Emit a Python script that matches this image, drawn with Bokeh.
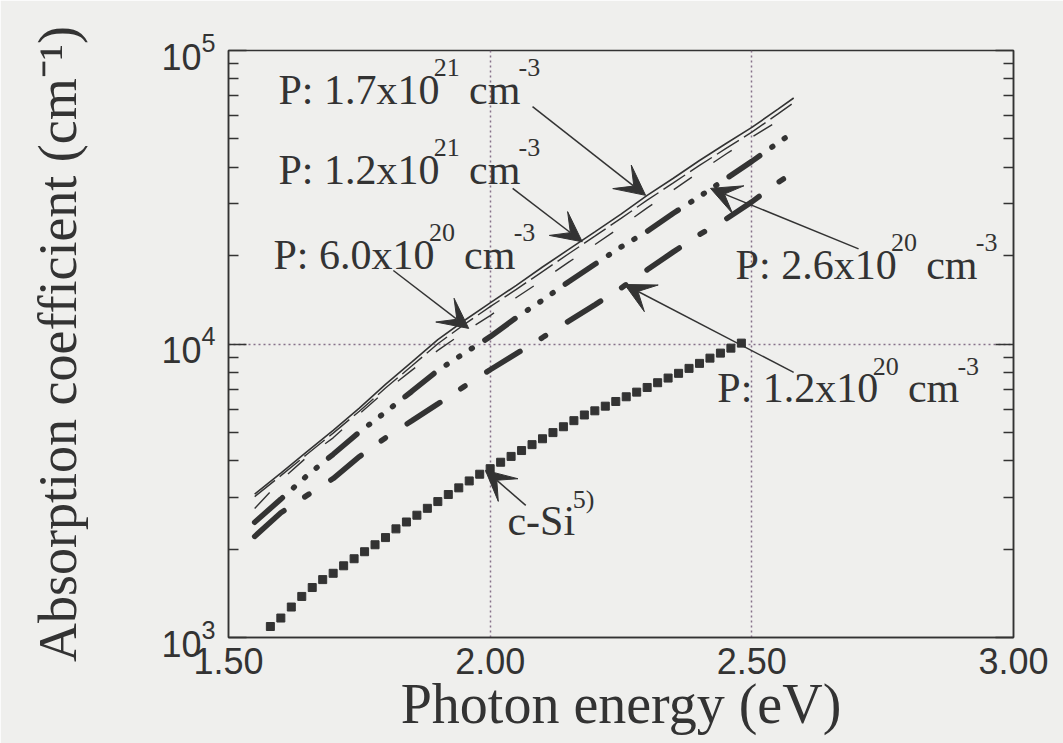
from bokeh.plotting import figure
from bokeh.models import (FixedTicker, LogAxis, Label, Arrow, VeeHead, Range1d)
from bokeh.embed import file_html
from bokeh.resources import INLINE

# Photon energy grid (eV) for the doped-film curves
energy = [1.55, 1.60, 1.65, 1.70, 1.75, 1.80, 1.85, 1.90, 1.95, 2.00, 2.05,
          2.10, 2.15, 2.20, 2.25, 2.30, 2.35, 2.40, 2.45, 2.50, 2.55, 2.58]

# Absorption coefficient (cm^-1) for each phosphorus concentration
alpha_p_1_7e21 = [3080, 3630, 4300, 5080, 6050, 7280, 8670, 10350, 12000, 13800, 15850,
                  18300, 21000, 24100, 27700, 32100, 36700, 42200, 48100, 54700, 63100, 68900]
alpha_p_1_2e21 = [3020, 3560, 4210, 4970, 5900, 7080, 8410, 10020, 11640, 13400, 15350,
                  17650, 20300, 23300, 26800, 30900, 35400, 40600, 46300, 52700, 60800, 66400]
alpha_p_6_0e20 = [2750, 3430, 4120, 4790, 5780, 6920, 8130, 9510, 10960, 12500, 14400,
                  16500, 19000, 21800, 25100, 29100, 33500, 38600, 44300, 50700, 57500, 62400]
alpha_p_2_6e20 = [2470, 2960, 3560, 4210, 5010, 5860, 6890, 8130, 9290, 10590, 12300,
                  14100, 16300, 18700, 21400, 24200, 27900, 31800, 36500, 41900, 48500, 52700]
alpha_p_1_2e20 = [2210, 2660, 3050, 3480, 4130, 4790, 5470, 6250, 7160, 8170, 9270,
                  10520, 11970, 13600, 15500, 17900, 20600, 23600, 26600, 30500, 35500, 38500]

# Crystalline silicon reference data
csi_energy = [1.58, 1.60, 1.62, 1.64, 1.66, 1.68, 1.70, 1.72, 1.74, 1.76, 1.78, 1.80,
              1.82, 1.84, 1.86, 1.88, 1.90, 1.92, 1.94, 1.96, 1.98, 2.00, 2.02, 2.04,
              2.06, 2.08, 2.10, 2.12, 2.14, 2.16, 2.18, 2.20, 2.22, 2.24, 2.26, 2.28,
              2.30, 2.32, 2.34, 2.36, 2.38, 2.40, 2.42, 2.44, 2.46, 2.48]
csi_alpha = [1090, 1165, 1270, 1380, 1480, 1575, 1655, 1755, 1855, 1960, 2070, 2190,
             2345, 2475, 2610, 2755, 2905, 3070, 3235, 3415, 3600, 3760, 3955, 4140,
             4335, 4540, 4755, 4990, 5225, 5480, 5730, 5920, 6140, 6370, 6610, 6855,
             7110, 7380, 7655, 7945, 8260, 8590, 8950, 9310, 9680, 10070]

x_ticks = [1.5, 2.0, 2.5, 3.0]
x_tick_labels = ["1.50", "2.00", "2.50", "3.00"]
y_ticks = [1e3, 1e4, 1e5]
y_minor_ticks = [2e3, 3e3, 4e3, 5e3, 6e3, 7e3, 8e3, 9e3,
                 2e4, 3e4, 4e4, 5e4, 6e4, 7e4, 8e4, 9e4]

BG = "#efefed"
INK = "#333333"
GRID = "#86718a"
SERIF = "Liberation Serif"
SANS = "Liberation Sans"

p = figure(width=1063, height=743,
           x_range=Range1d(1.5, 3.0), y_range=Range1d(1e3, 1e5),
           y_axis_type="log", output_backend="svg", toolbar_location=None,
           min_border_left=228, min_border_right=50,
           min_border_top=50, min_border_bottom=106,
           background_fill_color=BG, border_fill_color=BG)
p.title.visible = False
p.outline_line_color = INK
p.outline_line_width = 1.5

# grid: only the interior decade / energy lines, dotted
p.xgrid.ticker = FixedTicker(ticks=[2.0, 2.5])
p.ygrid.ticker = FixedTicker(ticks=[1e4])
for g in (p.xgrid, p.ygrid):
    g.grid_line_color = GRID
    g.grid_line_dash = "2 3"
    g.grid_line_width = 1.5

# bottom axis
xa = p.xaxis[0]
xa.ticker = FixedTicker(ticks=x_ticks)
xa.major_label_overrides = dict(zip(x_ticks, x_tick_labels))
xa.major_tick_in = 0
xa.major_tick_out = 0
xa.minor_tick_in = 0
xa.minor_tick_out = 0
xa.axis_line_color = INK
xa.axis_line_width = 1.5
xa.major_label_text_font = SANS
xa.major_label_text_font_size = "36px"
xa.major_label_text_color = INK
xa.major_label_standoff = 10
xa.axis_label = "Photon energy (eV)"
xa.axis_label_text_font = SERIF
xa.axis_label_text_font_size = "56px"
xa.axis_label_text_font_style = "normal"
xa.axis_label_text_color = INK
xa.axis_label_standoff = -4

# left axis
ya = p.yaxis[0]
ya.ticker = FixedTicker(ticks=y_ticks, minor_ticks=y_minor_ticks)
ya.major_tick_in = 18
ya.major_tick_out = 0
ya.minor_tick_in = 10
ya.minor_tick_out = 0
ya.major_tick_line_color = INK
ya.minor_tick_line_color = INK
ya.major_tick_line_width = 1.5
ya.minor_tick_line_width = 1.5
ya.axis_line_color = INK
ya.axis_line_width = 1.5
ya.major_label_text_font = SANS
ya.major_label_text_font_size = "36px"
ya.major_label_text_color = INK
ya.major_label_standoff = 13
ya.axis_label = "Absorption coefficient (cm\u207b\u00b9)"
ya.axis_label_text_font = SERIF
ya.axis_label_text_font_size = "54px"
ya.axis_label_text_font_style = "normal"
ya.axis_label_text_color = INK
ya.axis_label_standoff = 70

# right axis: ticks only, blank labels
ra = LogAxis(ticker=FixedTicker(ticks=y_ticks, minor_ticks=y_minor_ticks),
             major_tick_in=18, major_tick_out=0, minor_tick_in=10, minor_tick_out=0,
             major_tick_line_color=INK, minor_tick_line_color=INK,
             major_tick_line_width=1.5, minor_tick_line_width=1.5,
             axis_line_color=INK, axis_line_width=1.5,
             major_label_overrides={t: "" for t in y_ticks},
             major_label_standoff=0, major_label_text_font_size="10px")
p.add_layout(ra, "right")

# curves
p.line(energy, alpha_p_1_7e21, line_color=INK, line_width=1.6)
p.line(energy, alpha_p_1_2e21, line_color=INK, line_width=1.4, line_dash="26 6")
p.line(energy, alpha_p_6_0e20, line_color=INK, line_width=1.4, line_dash="22 26")
p.line(energy, alpha_p_2_6e20, line_color=INK, line_width=5.5, line_cap="round",
       line_dash="37 15 1 14 1 14 1 15")
p.line(energy, alpha_p_1_2e20, line_color=INK, line_width=5.5, line_cap="round",
       line_dash="39 25 5 26")
p.scatter(csi_energy, csi_alpha, marker="square", size=8, fill_color=INK, line_color=INK)

# Times-metric advance widths (1/1000 em) used to chain text runs
ADV = {"P": 556, ":": 278, " ": 250, ".": 250, "x": 500, "c": 444, "m": 778,
       "-": 333, "S": 556, "i": 278, ")": 333}
for d in "0123456789":
    ADV[d] = 500

BASE_PX = 42
SUP_PX = 26
SUP_RAISE = 22
BASELINE_FIX = 14
FIT = 0.965  # rendered advance relative to the nominal metric


def run_width(text, px):
    return sum(ADV.get(ch, 500) for ch in text) * px / 1000.0 * FIT


def add_note(parts, x, y, start, tip):
    """Write a label made of normal and superscript runs, plus its arrow."""
    off = 0.0
    for txt, sup in parts:
        px = SUP_PX if sup else BASE_PX
        lead = len(txt) - len(txt.lstrip(" "))
        off += run_width(txt[:lead], BASE_PX)
        body = txt.lstrip(" ")
        p.add_layout(Label(x=x, y=y, x_offset=off,
                           y_offset=BASELINE_FIX + (SUP_RAISE if sup else 0),
                           text=body, text_font=SERIF, text_font_size=f"{px}px",
                           text_color=INK, text_align="left",
                           text_baseline="alphabetic"))
        off += run_width(body, px)
    p.add_layout(Arrow(x_start=start[0], y_start=start[1], x_end=tip[0], y_end=tip[1],
                       line_color=INK, line_width=1.5,
                       end=VeeHead(size=30, fill_color=INK, line_color=INK, line_width=1)))


add_note([("P: 1.7x10", False), ("21", True), (" cm", False), ("-3", True)],
         1.5955, 65900, (2.081, 64400), (2.297, 32100))
add_note([("P: 1.2x10", False), ("21", True), (" cm", False), ("-3", True)],
         1.5955, 35200, (2.043, 33900), (2.176, 22300))
add_note([("P: 6.0x10", False), ("20", True), (" cm", False), ("-3", True)],
         1.586, 18070, (1.815, 17800), (1.959, 11300))
add_note([("P: 2.6x10", False), ("20", True), (" cm", False), ("-3", True)],
         2.469, 16700, (2.704, 21100), (2.421, 33900))
add_note([("P: 1.2x10", False), ("20", True), (" cm", False), ("-3", True)],
         2.434, 6320, (2.580, 8000), (2.257, 15950))
add_note([("c-Si", False), ("5)", True)],
         2.033, 2230, (2.068, 2820), (1.991, 3710))

open("out.html", "w").write(file_html(p, INLINE))
